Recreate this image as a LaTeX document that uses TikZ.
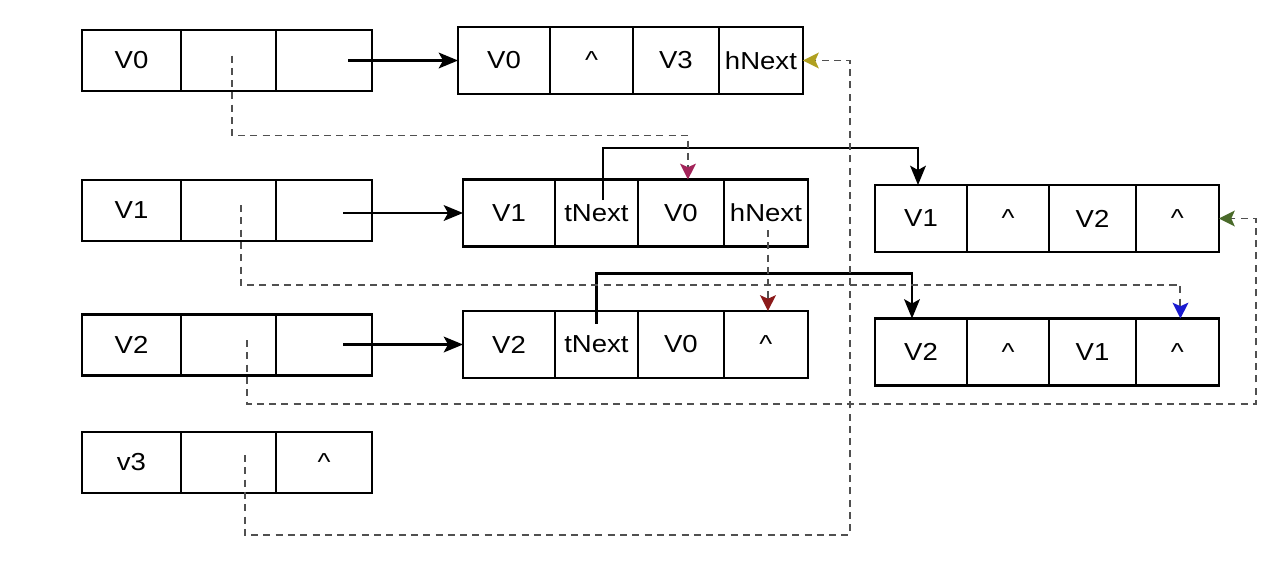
\documentclass[tikz,border=0pt]{standalone}
\usepackage{fontspec}
\setmainfont{Liberation Sans}[FakeStretch=1.12]
\usetikzlibrary{arrows.meta,positioning}
\definecolor{linkgray}{HTML}{505050}
\definecolor{headcrimson}{HTML}{A3245A}
\definecolor{headred}{HTML}{8B1A1A}
\definecolor{headblue}{HTML}{1A1AD0}
\definecolor{headgreen}{HTML}{4A6A2A}
\definecolor{headolive}{HTML}{B0A020}
\tikzset{
  cell/.style={draw, line width=1.2pt, inner sep=0pt, outer sep=0pt, minimum height=1.22cm, font=\fontsize{14}{16}\selectfont},
  elem/.style={cell, minimum height=1.34cm},
  ptr/.style={line width=1.2pt, -{Stealth[length=11pt,width=9pt,inset=2.5pt]}},
  link/.style={line width=1.1pt, draw=linkgray, dash pattern=on 4pt off 3pt, -{Stealth[length=9pt,width=9pt,inset=2pt,#1]}}
}

\begin{document}
\begin{tikzpicture}[x=0.02cm,y=-0.02cm]
  \useasboundingbox (0,0) rectangle (1285,569);

  \node[cell, minimum width=1.98cm] (l0a) at (131.5,60.5) {V0};
  \node[cell, minimum width=1.9cm, right=0pt of l0a] (l0b) {};
  \node[cell, minimum width=1.92cm, right=0pt of l0b] (l0c) {};
  \node[cell, minimum width=1.98cm] (l1a) at (131.5,210.5) {V1};
  \node[cell, minimum width=1.9cm, right=0pt of l1a] (l1b) {};
  \node[cell, minimum width=1.92cm, right=0pt of l1b] (l1c) {};
  \node[cell, minimum width=1.98cm] (l2a) at (131.5,345) {V2};
  \node[cell, minimum width=1.9cm, right=0pt of l2a] (l2b) {};
  \node[cell, minimum width=1.92cm, right=0pt of l2b] (l2c) {};
  \node[cell, minimum width=1.98cm] (l3a) at (131.5,462.5) {v3};
  \node[cell, minimum width=1.9cm, right=0pt of l3a] (l3b) {};
  \node[cell, minimum width=1.92cm, right=0pt of l3b] (l3c) {\^{}};

  \node[elem, minimum width=1.84cm] (e0a) at (504,60.5) {V0};
  \node[elem, minimum width=1.66cm, right=0pt of e0a] (e0b) {\^{}};
  \node[elem, minimum width=1.72cm, right=0pt of e0b] (e0c) {V3};
  \node[elem, minimum width=1.68cm, right=0pt of e0c] (e0d) {hNext};
  \node[elem, minimum width=1.84cm] (e1a) at (509,213) {V1};
  \node[elem, minimum width=1.66cm, right=0pt of e1a] (e1b) {tNext};
  \node[elem, minimum width=1.72cm, right=0pt of e1b] (e1c) {V0};
  \node[elem, minimum width=1.68cm, right=0pt of e1c] (e1d) {hNext};
  \node[elem, minimum width=1.84cm] (e2a) at (509,344.5) {V2};
  \node[elem, minimum width=1.66cm, right=0pt of e2a] (e2b) {tNext};
  \node[elem, minimum width=1.72cm, right=0pt of e2b] (e2c) {V0};
  \node[elem, minimum width=1.68cm, right=0pt of e2c] (e2d) {\^{}};

  \node[elem, minimum width=1.84cm] (r1a) at (921,218.5) {V1};
  \node[elem, minimum width=1.64cm, right=0pt of r1a] (r1b) {\^{}};
  \node[elem, minimum width=1.74cm, right=0pt of r1b] (r1c) {V2};
  \node[elem, minimum width=1.66cm, right=0pt of r1c] (r1d) {\^{}};
  \node[elem, minimum width=1.84cm] (r2a) at (921,352) {V2};
  \node[elem, minimum width=1.64cm, right=0pt of r2a] (r2b) {\^{}};
  \node[elem, minimum width=1.74cm, right=0pt of r2b] (r2c) {V1};
  \node[elem, minimum width=1.66cm, right=0pt of r2c] (r2d) {\^{}};

  \draw[ptr] ([xshift=-2.2cm]e0a.west) -- (e0a.west);
  \draw[ptr] ([xshift=-2.4cm]e1a.west) -- (e1a.west);
  \draw[ptr] ([xshift=-2.4cm]e2a.west) -- (e2a.west);
  \draw[ptr] ([xshift=.13cm,yshift=.26cm]e1b.center) -- ++(0,-52) -| ([xshift=-.06cm]r1a.north);
  \draw[ptr] ([yshift=.42cm]e2b.center) -- ++(0,-50) -| ([xshift=-.18cm]r2a.north);

  \draw[link={color=headcrimson}] ([xshift=.07cm,yshift=.1cm]l0b.center) -- ++(0,80) -| ([xshift=.14cm]e1c.north);
  \draw[link={color=headblue}] ([xshift=.25cm,yshift=.11cm]l1b.center) -- ++(0,80) -| ([xshift=.06cm]r2d.north);
  \draw[link={color=headred}] ([xshift=.04cm,yshift=-.34cm]e1d.center) -- ([xshift=.04cm]e2d.north);
  \draw[link={color=headgreen}] ([xshift=.37cm,yshift=.1cm]l2b.center) -- ++(0,64) -| ([xshift=.74cm]r1d.east) -- (r1d.east);
  \draw[link={color=headolive}] ([xshift=.33cm,yshift=.15cm]l3b.center) -- ++(0,80) -| ([xshift=.94cm]e0d.east) -- (e0d.east);
\end{tikzpicture}
\end{document}
